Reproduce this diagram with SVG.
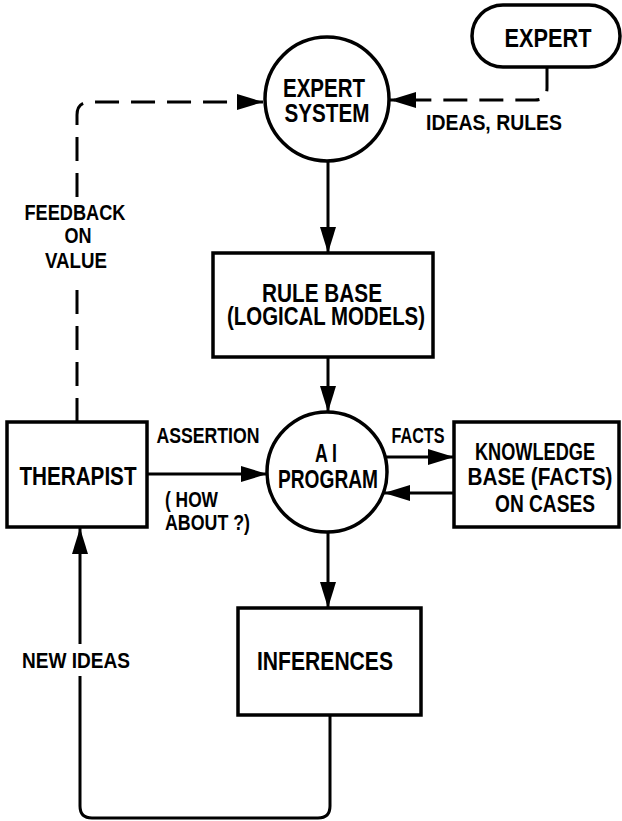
<svg xmlns="http://www.w3.org/2000/svg" width="622" height="821" viewBox="0 0 622 821">
  <style>
    .node { fill: #fff; stroke: #000; stroke-width: 3.5; }
    .conn { fill: none; stroke: #000; stroke-width: 3; }
    .dash { stroke-dasharray: 24 12; }
    .t { font-family: "Liberation Sans", Arial, sans-serif; font-weight: bold; fill: #000; text-anchor: middle; }
    .big { font-size: 26px; }
    .mid { font-size: 24px; }
    .lbl { font-size: 22px; }
  </style>
  <defs>
    <marker id="arrow" markerUnits="userSpaceOnUse" markerWidth="27" markerHeight="18" refX="26" refY="9" orient="auto">
      <path d="M0,1 L26,9 L0,17 z" fill="#000"/>
    </marker>
  </defs>
  <rect width="622" height="821" fill="#fff"/>

  <!-- connectors -->
  <g id="connectors">
    <path class="conn dash" d="M547,67 V88 Q547,100 535,100 H390" marker-end="url(#arrow)"/>
    <path class="conn dash" d="M77,422 V280"/>
    <path class="conn dash" d="M77,197 V115 Q77,102 90,102 H263" marker-end="url(#arrow)"/>
    <path class="conn" d="M328,161 V253" marker-end="url(#arrow)"/>
    <path class="conn" d="M328,357 V412" marker-end="url(#arrow)"/>
    <path class="conn" d="M147,474 H267" marker-end="url(#arrow)"/>
    <path class="conn" d="M385,457 H454" marker-end="url(#arrow)"/>
    <path class="conn" d="M454,493 H384" marker-end="url(#arrow)"/>
    <path class="conn" d="M328,532 V608" marker-end="url(#arrow)"/>
    <path class="conn" d="M330,715 V806 Q330,818 318,818 H92 Q80,818 80,806 V676"/>
    <path class="conn" d="M80,644 V528" marker-end="url(#arrow)"/>
  </g>

  <!-- edge labels -->
  <g id="labels">
    <text class="t lbl" x="494" y="130" textLength="136" lengthAdjust="spacingAndGlyphs">IDEAS, RULES</text>
    <text class="t lbl" x="75" y="220" textLength="101" lengthAdjust="spacingAndGlyphs">FEEDBACK</text>
    <text class="t lbl" x="78" y="243" textLength="27" lengthAdjust="spacingAndGlyphs">ON</text>
    <text class="t lbl" x="76" y="268" textLength="62" lengthAdjust="spacingAndGlyphs">VALUE</text>
    <text class="t lbl" x="208" y="443" textLength="103" lengthAdjust="spacingAndGlyphs">ASSERTION</text>
    <text class="t lbl" x="165" y="507" style="text-anchor:start" textLength="53" lengthAdjust="spacingAndGlyphs">( HOW</text>
    <text class="t lbl" x="165" y="530" style="text-anchor:start" textLength="85" lengthAdjust="spacingAndGlyphs">ABOUT ?)</text>
    <text class="t lbl" x="418" y="443" textLength="53" lengthAdjust="spacingAndGlyphs">FACTS</text>
    <text class="t lbl" x="76" y="668" textLength="108" lengthAdjust="spacingAndGlyphs">NEW IDEAS</text>
  </g>

  <g id="expert">
    <rect class="node" x="472" y="5" width="148" height="62" rx="31"/>
    <text class="t big" x="548" y="47" textLength="87" lengthAdjust="spacingAndGlyphs">EXPERT</text>
  </g>

  <g id="expert-system">
    <circle class="node" cx="327" cy="99" r="62"/>
    <text class="t big" x="324" y="97" textLength="82" lengthAdjust="spacingAndGlyphs">EXPERT</text>
    <text class="t big" x="327" y="122" textLength="85" lengthAdjust="spacingAndGlyphs">SYSTEM</text>
  </g>

  <g id="rule-base">
    <rect class="node" x="213" y="253" width="220" height="104"/>
    <text class="t big" x="322" y="302" textLength="120" lengthAdjust="spacingAndGlyphs">RULE BASE</text>
    <text class="t big" x="326" y="325" textLength="198" lengthAdjust="spacingAndGlyphs">(LOGICAL MODELS)</text>
  </g>

  <g id="therapist">
    <rect class="node" x="7" y="422" width="140" height="105"/>
    <text class="t big" x="78" y="485" textLength="117" lengthAdjust="spacingAndGlyphs">THERAPIST</text>
  </g>

  <g id="ai-program">
    <circle class="node" cx="327" cy="472" r="60"/>
    <text class="t big" x="326" y="462" textLength="22" lengthAdjust="spacingAndGlyphs">A I</text>
    <text class="t big" x="328" y="488" textLength="100" lengthAdjust="spacingAndGlyphs">PROGRAM</text>
  </g>

  <g id="knowledge-base">
    <rect class="node" x="454" y="422" width="165" height="105"/>
    <text class="t mid" x="535" y="460" textLength="120" lengthAdjust="spacingAndGlyphs">KNOWLEDGE</text>
    <text class="t mid" x="540" y="485" textLength="145" lengthAdjust="spacingAndGlyphs">BASE (FACTS)</text>
    <text class="t mid" x="545" y="512" textLength="100" lengthAdjust="spacingAndGlyphs">ON CASES</text>
  </g>

  <g id="inferences">
    <rect class="node" x="238" y="608" width="183" height="107"/>
    <text class="t big" x="325" y="670" textLength="136" lengthAdjust="spacingAndGlyphs">INFERENCES</text>
  </g>
</svg>
